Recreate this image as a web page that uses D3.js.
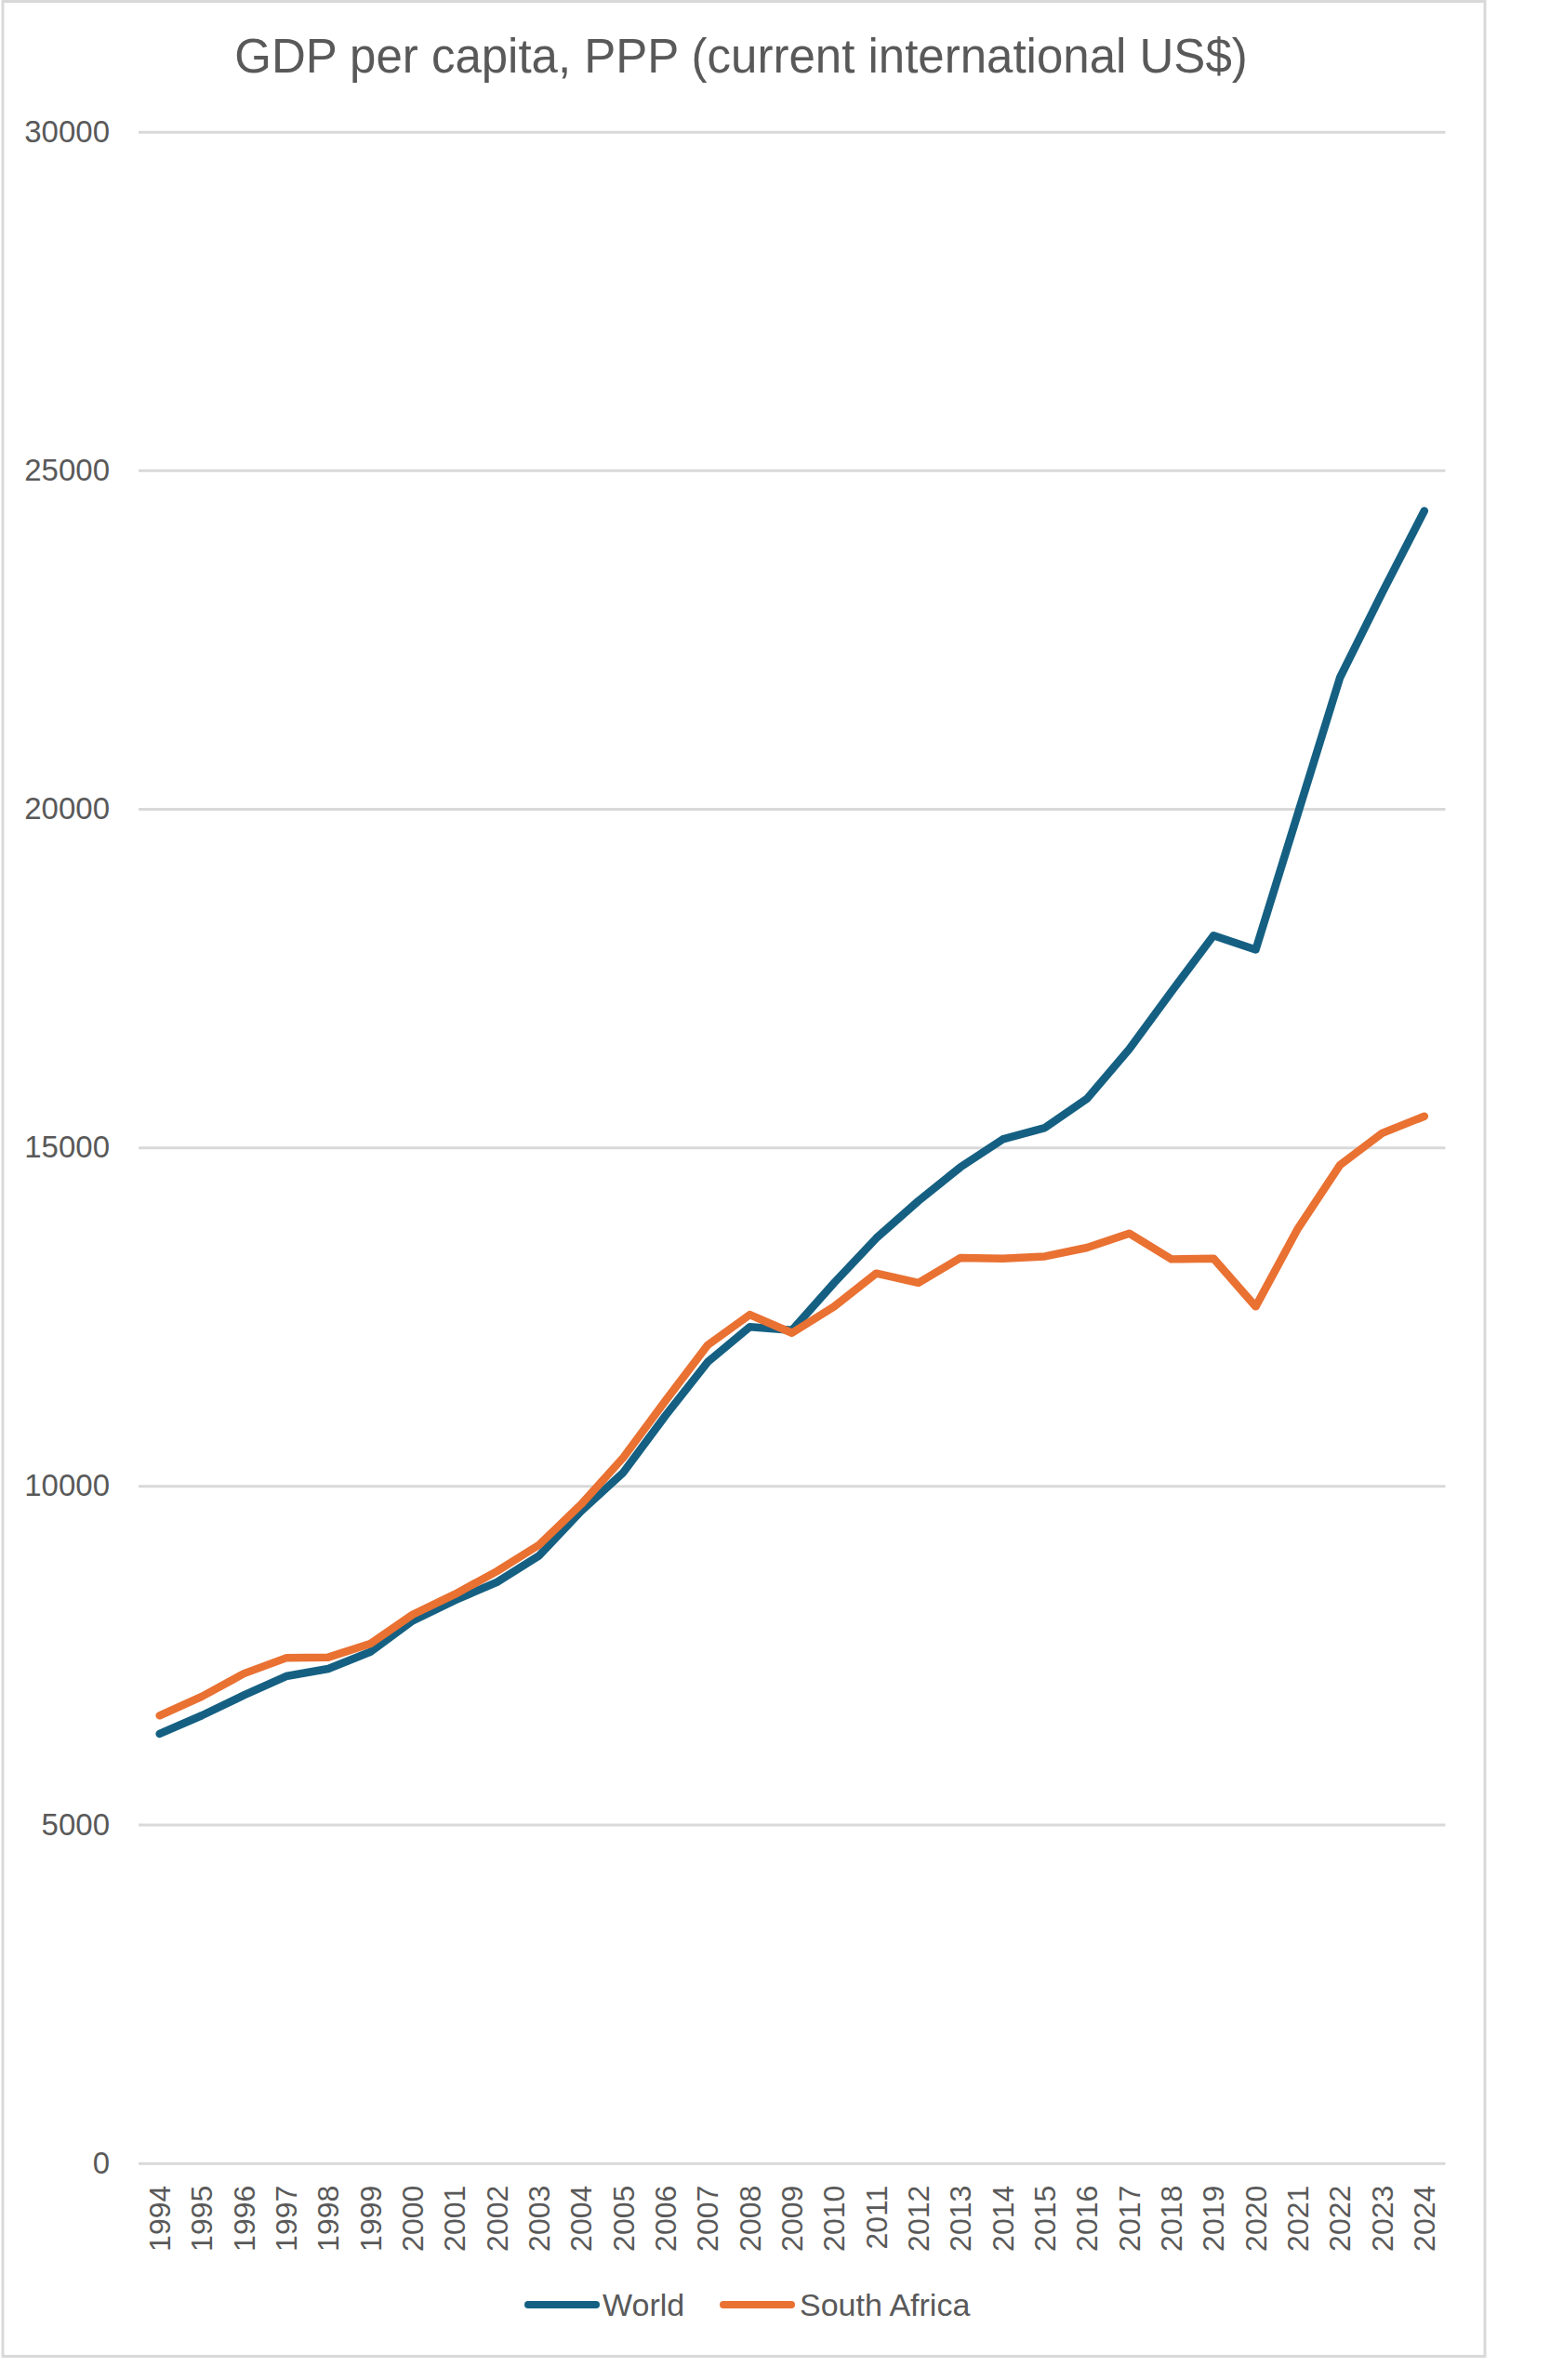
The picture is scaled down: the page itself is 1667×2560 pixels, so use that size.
<!DOCTYPE html>
<html>
<head>
<meta charset="utf-8">
<script src="https://cdn.jsdelivr.net/npm/d3@7"></script>
<style>
html,body{margin:0;padding:0;background:#fff;}
svg{display:block;font-family:"Liberation Sans",Arial,sans-serif;}
</style>
</head>
<body>
<script>
const titleText = "GDP per capita, PPP (current international US$)";
const years = ["1994","1995","1996","1997","1998","1999","2000","2001","2002","2003","2004","2005","2006","2007","2008","2009","2010","2011","2012","2013","2014","2015","2016","2017","2018","2019","2020","2021","2022","2023","2024"];
const worldValues = [6340,6610,6910,7190,7300,7550,8010,8310,8580,8970,9630,10200,11040,11830,12350,12300,13000,13660,14210,14710,15120,15290,15720,16450,17300,18130,17920,19930,21940,23190,24400];
const southAfricaValues = [6610,6890,7230,7460,7470,7670,8100,8400,8740,9130,9730,10420,11260,12080,12530,12260,12650,13140,13000,13370,13360,13390,13520,13730,13350,13360,12650,13800,14740,15210,15460];
const seriesNames = ["World","South Africa"];
const seriesColors = ["#156082","#E97132"];
const yTicks = [0,5000,10000,15000,20000,25000,30000];

(function(){
const W = 1667, H = 2560;
const svg = d3.select("body").append("svg").attr("width", W).attr("height", H);

// chart frame
svg.append("rect").attr("x",3).attr("y",1.5).attr("width",1594).attr("height",2533)
  .attr("fill","#fff").attr("stroke","#d9d9d9").attr("stroke-width",3);

const pLeft = 149, pRight = 1554.5, pTop = 141.7, pBottom = 2326.7;
const x = d3.scaleBand().domain(years).range([pLeft, pRight]);
const y = d3.scaleLinear().domain([0, 30000]).range([pBottom, pTop]);

// title
svg.append("text").attr("x", 797).attr("y", 78).attr("text-anchor","middle")
  .attr("font-size", 51).attr("fill","#595959").text(titleText);

// gridlines + y labels
const yAxis = d3.axisLeft(y).tickValues(yTicks).tickSize(-(pRight-pLeft)).tickFormat(d3.format("d"));
const gy = svg.append("g").attr("transform", `translate(${pLeft},0)`).call(yAxis);
gy.select(".domain").remove();
gy.selectAll(".tick line").attr("stroke","#d9d9d9").attr("stroke-width",3);
gy.selectAll(".tick text").attr("x", -31).attr("font-size", 33).attr("fill","#595959")
  .attr("font-family","Liberation Sans, Arial, sans-serif");

// x labels
const xAxis = d3.axisBottom(x).tickSize(0);
const gx = svg.append("g").attr("transform", `translate(0,${pBottom})`).call(xAxis);
gx.select(".domain").remove();
gx.selectAll(".tick text")
  .attr("font-size", 32).attr("fill","#595959").attr("font-family","Liberation Sans, Arial, sans-serif")
  .attr("text-anchor","end").attr("transform","rotate(-90)")
  .attr("x", -24).attr("y", 0).attr("dy","0.35em");

// lines
const seriesData = [worldValues, southAfricaValues];
const line = d3.line().x((d,i) => x(years[i]) + x.bandwidth()/2).y(d => y(d));
seriesData.forEach((vals, k) => {
  svg.append("path").datum(vals).attr("d", line)
    .attr("fill","none").attr("stroke", seriesColors[k]).attr("stroke-width", 8.5)
    .attr("stroke-linejoin","round").attr("stroke-linecap","round");
});

// legend
const legendY = 2479;
const legendItems = [
  {x1: 568, x2: 641, tx: 648},
  {x1: 778, x2: 851, tx: 860}
];
legendItems.forEach((it, k) => {
  svg.append("line").attr("x1", it.x1).attr("x2", it.x2).attr("y1", legendY).attr("y2", legendY)
    .attr("stroke", seriesColors[k]).attr("stroke-width", 8).attr("stroke-linecap","round");
  svg.append("text").attr("x", it.tx).attr("y", legendY).attr("dy","0.35em")
    .attr("font-size", 34).attr("fill","#595959").text(seriesNames[k]);
});
})();
</script>
</body>
</html>
